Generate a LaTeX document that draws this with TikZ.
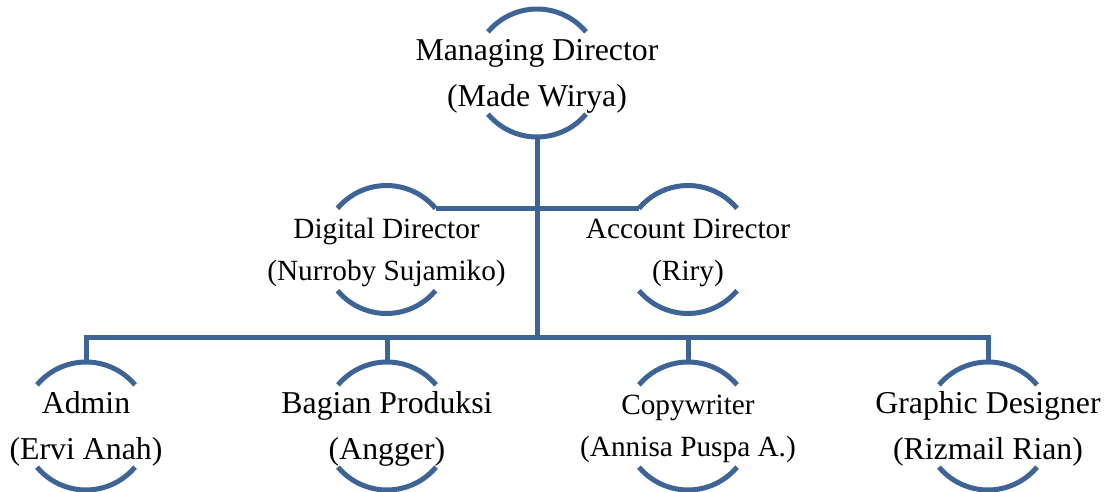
\documentclass[tikz,border=0pt]{standalone}
\usepackage{fontspec}
\setmainfont{Liberation Serif}
\definecolor{orgblue}{RGB}{62,100,150}

\begin{document}
\begin{tikzpicture}[x=1pt, y=1pt, person/.style={circle, minimum size=128pt, inner sep=0pt, outer sep=0pt}, link/.style={line width=5pt, draw=orgblue}, role/.style={align=center, yshift=-3pt, font=\fontsize{31.8pt}{46pt}\selectfont}, rolesmall/.style={align=center, yshift=-3pt, font=\fontsize{29.3pt}{42pt}\selectfont}]
			\useasboundingbox (0,0) rectangle (1111,491);
			\node[person] (md) at (537,418) {};
			\node[person] (dd) at (386.5,241.5) {};
			\node[person] (ad) at (688,241.5) {};
			\node[person] (adm) at (86,65) {};
			\node[person] (bp) at (387,65) {};
			\node[person] (cw) at (688,65) {};
			\node[person] (gd) at (988,65) {};
			\node[role] (md-t) at (md) {Managing Director\\(Made Wirya)};
			\node[rolesmall] (dd-t) at (dd) {Digital Director\\(Nurroby Sujamiko)};
			\node[rolesmall] (ad-t) at (ad) {Account Director\\(Riry)};
			\node[role] (adm-t) at (adm) {Admin\\(Ervi Anah)};
			\node[role] (bp-t) at (bp) {Bagian Produksi\\(Angger)};
			\node[rolesmall] (cw-t) at (cw) {Copywriter\\(Annisa Puspa A.)};
			\node[role] (gd-t) at (gd) {Graphic Designer\\(Rizmail Rian)};
			\foreach \p in {md,dd,ad,adm,bp,cw,gd}{
				\draw[link] (\p.40) arc[start angle=40, end angle=140, radius=64pt];
				\draw[link] (\p.220) arc[start angle=220, end angle=320, radius=64pt];
			}
			\coordinate (bus) at (537,153.5);
			\draw[link] (md.south) -- (bus);
			\draw[link] (dd.40) -- (ad.140);
			\draw[link] (adm.north) -- (adm.north |- bus) -- (gd.north |- bus) -- (gd.north);
			\draw[link] (bp.north) -- (bp.north |- bus);
			\draw[link] (cw.north) -- (cw.north |- bus);
\end{tikzpicture}
\end{document}
